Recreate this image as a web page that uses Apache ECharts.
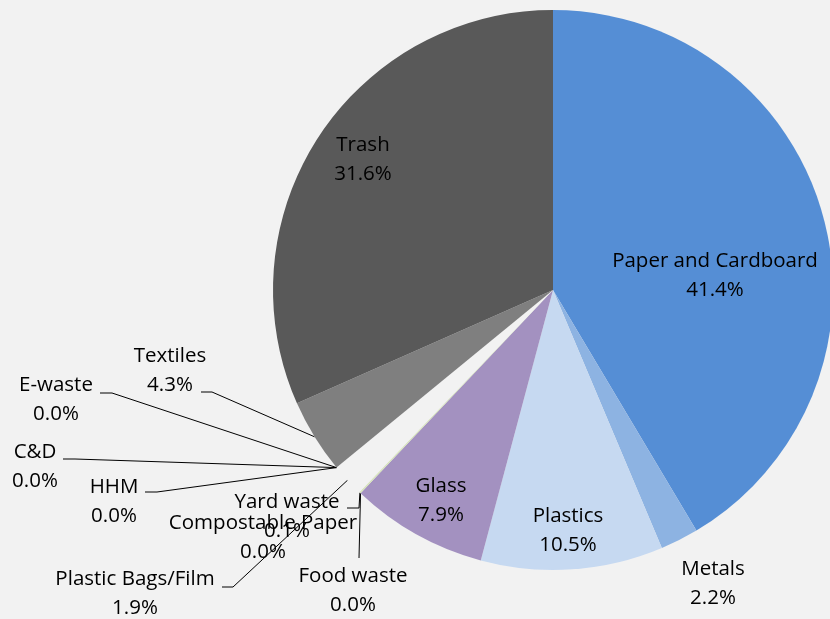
<!DOCTYPE html>
<html><head><meta charset="utf-8">
<script src="https://cdn.jsdelivr.net/npm/echarts@6/dist/echarts.min.js"></script>
<style>html,body{margin:0;padding:0;background:#f2f2f2}#c{width:830px;height:619px}</style>
</head><body><div id="c"></div>
<script>
const categories = ['Paper and Cardboard','Metals','Plastics','Glass','Food waste','Yard waste','Compostable Paper','Plastic Bags/Film','HHM','C&D','E-waste','Textiles','Trash'];
const shares = [41.4,2.2,10.5,7.9,0.0,0.1,0.0,1.9,0.0,0.0,0.0,4.3,31.6];
const colors = ['#558ed5','#8db3e2','#c6d9f1','#a391c0','#c3d69b','#d7e4bd','#e6b9b8','#f2f2f2','#b9cde5','#fcd5b5','#ccc1da','#7f7f7f','#595959'];

// annotation layout for labels (centre of label block) and leader-line bends near the label
const labelPos = {
  'Paper and Cardboard': {x:715, y:275.5},
  'Metals': {x:713, y:584},
  'Plastics': {x:568, y:530.5},
  'Glass': {x:441, y:500.5},
  'Food waste': {x:353, y:591, line:[[359,558],[359,558]]},
  'Yard waste': {x:287, y:516.5, line:[[359,508],[347,508]]},
  'Compostable Paper': {x:263, y:537.5},
  'Plastic Bags/Film': {x:135, y:593.5, line:[[233,587],[222,587]]},
  'HHM': {x:114, y:501.5, line:[[157,492],[145,492]]},
  'C&D': {x:35, y:467, line:[[75,459],[63,459]]},
  'E-waste': {x:56, y:399.5, line:[[112,393],[100,393]]},
  'Textiles': {x:170, y:371, line:[[212,392],[201,392]]},
  'Trash': {x:363, y:159.5}
};

const chart = echarts.init(document.getElementById('c'));
const data = categories.map((name, i) => ({
  name, value: shares[i],
  itemStyle: {color: colors[i]},
  labelLine: {show: !!labelPos[name].line}
}));

chart.setOption({
  backgroundColor: '#f2f2f2',
  animation: false,
  series: [{
    type: 'pie',
    center: [553, 290],
    radius: 280,
    startAngle: 90,
    clockwise: true,
    avoidLabelOverlap: false,
    minShowLabelAngle: 0,
    itemStyle: {borderWidth: 0},
    label: {
      show: true,
      position: 'outside',
      formatter: p => p.name + '\n' + p.value.toFixed(1) + '%',
      color: '#000',
      fontFamily: 'Open Sans',
      fontSize: 20.5,
      lineHeight: 29,
      align: 'center'
    },
    labelLine: {show: true, length: 10, length2: 10, lineStyle: {color: '#000', width: 1}},
    labelLayout: function (params) {
      const name = categories[params.dataIndex];
      const p = labelPos[name];
      const res = {x: p.x, y: p.y, align: 'center', verticalAlign: 'middle'};
      if (p.line && params.labelLinePoints) {
        res.labelLinePoints = [params.labelLinePoints[0], p.line[0], p.line[1]];
      }
      return res;
    },
    data: data
  }]
});
</script></body></html>
